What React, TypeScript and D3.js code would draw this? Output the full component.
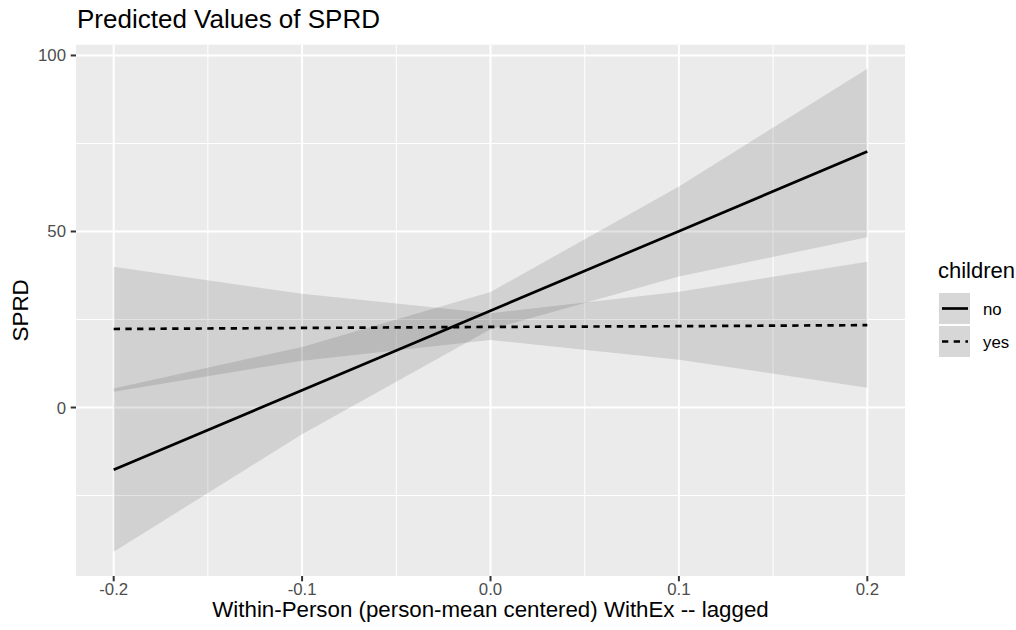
import React from "react";
import * as d3 from "d3";

const xValues = [-0.2, -0.1, 0, 0.1, 0.2];
const noPred = [-17.7, 4.9, 27.5, 50.1, 72.7];
const noLow = [-41, -7.6, 22.2, 37.2, 48.4];
const noHigh = [5.4, 17.2, 32.8, 62.8, 96.2];
const yesPred = [22.3, 22.6, 22.9, 23.1, 23.4];
const yesLow = [4.5, 13.3, 19.2, 13.6, 5.6];
const yesHigh = [40, 32.3, 26.8, 32.9, 41.4];
const xTicks = [-0.2, -0.1, 0, 0.1, 0.2];
const xMinor = [-0.15, -0.05, 0.05, 0.15];
const yTicks = [0, 50, 100];
const yMinor = [-25, 25, 75];
const groups = ["no", "yes"];

const W = 1016;
const H = 630;
const P = { left: 76, right: 905, top: 44.7, bottom: 576 };
const FONT = "'Liberation Sans', Arial, Helvetica, sans-serif";

export default function App() {
  const xExt = d3.extent(xValues) as [number, number];
  const xPad = (xExt[1] - xExt[0]) * 0.05;
  const x = d3.scaleLinear().domain([xExt[0] - xPad, xExt[1] + xPad]).range([P.left, P.right]);
  const yMin = d3.min([...noLow, ...yesLow]) as number;
  const yMax = d3.max([...noHigh, ...yesHigh]) as number;
  const yPad = (yMax - yMin) * 0.05;
  const y = d3.scaleLinear().domain([yMin - yPad, yMax + yPad]).range([P.bottom, P.top]);

  const series = [
    { name: groups[0], pred: noPred, low: noLow, high: noHigh, dash: undefined as string | undefined },
    { name: groups[1], pred: yesPred, low: yesLow, high: yesHigh, dash: "6.3 5.4" },
  ];

  const line = d3
    .line<number>()
    .x((_, i) => x(xValues[i]))
    .y((d) => y(d));

  const ribbonPath = (low: number[], high: number[]) =>
    d3
      .area<number>()
      .x((_, i) => x(xValues[i]))
      .y0((_, i) => y(low[i]))
      .y1((_, i) => y(high[i]))(xValues) as string;

  return (
    <svg width={W} height={H} style={{ position: "absolute", left: 0, top: 0, background: "#fff" }}>
      <rect x={0} y={0} width={W} height={H} fill="#fff" />
      <rect x={P.left} y={P.top} width={P.right - P.left} height={P.bottom - P.top} fill="#EBEBEB" />
      {xMinor.map((t) => (
        <line key={"xm" + t} x1={x(t)} x2={x(t)} y1={P.top} y2={P.bottom} stroke="#fff" strokeWidth={1} />
      ))}
      {yMinor.map((t) => (
        <line key={"ym" + t} x1={P.left} x2={P.right} y1={y(t)} y2={y(t)} stroke="#fff" strokeWidth={1} />
      ))}
      {xTicks.map((t) => (
        <line key={"xg" + t} x1={x(t)} x2={x(t)} y1={P.top} y2={P.bottom} stroke="#fff" strokeWidth={2} />
      ))}
      {yTicks.map((t) => (
        <line key={"yg" + t} x1={P.left} x2={P.right} y1={y(t)} y2={y(t)} stroke="#fff" strokeWidth={2} />
      ))}
      {series.map((s) => (
        <path key={"r" + s.name} d={ribbonPath(s.low, s.high)} fill="#000" fillOpacity={0.11} />
      ))}
      {series.map((s) => (
        <path
          key={"l" + s.name}
          d={line(s.pred) as string}
          fill="none"
          stroke="#000"
          strokeWidth={2.7}
          strokeDasharray={s.dash}
        />
      ))}
      {/* x axis */}
      {xTicks.map((t) => (
        <g key={"xt" + t}>
          <line x1={x(t)} x2={x(t)} y1={P.bottom} y2={P.bottom + 5.3} stroke="#333" strokeWidth={2} />
          <text x={x(t)} y={594.5} textAnchor="middle" fontFamily={FONT} fontSize={16.8} fill="#4D4D4D">
            {d3.format(".1f")(t).replace("−", "-")}
          </text>
        </g>
      ))}
      {yTicks.map((t) => (
        <g key={"yt" + t}>
          <line x1={P.left - 5.3} x2={P.left} y1={y(t)} y2={y(t)} stroke="#333" strokeWidth={2} />
          <text x={P.left - 10} y={y(t) + 6} textAnchor="end" fontFamily={FONT} fontSize={16.8} fill="#4D4D4D">
            {t}
          </text>
        </g>
      ))}
      <text x={(P.left + P.right) / 2} y={617} textAnchor="middle" fontFamily={FONT} fontSize={22.3} fill="#000">
        Within-Person (person-mean centered) WithEx -- lagged
      </text>
      <text
        transform={`translate(28, ${(P.top + P.bottom) / 2}) rotate(-90)`}
        textAnchor="middle"
        fontFamily={FONT}
        fontSize={22.4}
        fill="#000"
      >
        SPRD
      </text>
      <text x={77} y={27.5} fontFamily={FONT} fontSize={26} fill="#000">
        Predicted Values of SPRD
      </text>
      {/* legend */}
      <text x={938} y={278} fontFamily={FONT} fontSize={22} fill="#000">
        children
      </text>
      {series.map((s, i) => {
        const ky = 293 + i * 33;
        return (
          <g key={"lg" + s.name}>
            <rect x={939} y={ky} width={31} height={31} fill="#F2F2F2" />
            <rect x={939} y={ky} width={31} height={31} fill="#000" fillOpacity={0.11} />
            <line
              x1={942}
              x2={968}
              y1={ky + 15.5}
              y2={ky + 15.5}
              stroke="#000"
              strokeWidth={2.7}
              strokeDasharray={s.dash}
            />
            <text x={983} y={ky + 21.5} fontFamily={FONT} fontSize={16.8} fill="#000">
              {s.name}
            </text>
          </g>
        );
      })}
    </svg>
  );
}
